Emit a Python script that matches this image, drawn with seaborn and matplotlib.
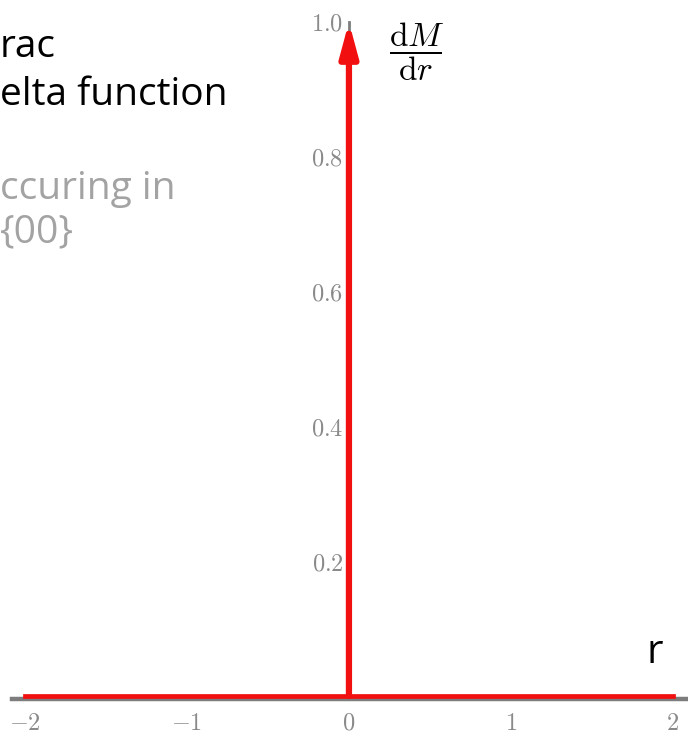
import matplotlib
matplotlib.use("Agg")
import matplotlib.pyplot as plt
import seaborn as sns

# --- data ---------------------------------------------------------------
r_range = [-2.0, 2.0]          # extent of the plotted r axis
baseline = [0.0, 0.0]          # dM/dr is zero everywhere except r = 0
impulse_r = 0.0                # location of the delta spike
impulse_height = 1.0           # height drawn for the spike
x_ticks = [-2, -1, 0, 1, 2]
x_tick_labels = ["$-2$", "$-1$", "$0$", "$1$", "$2$"]
y_ticks = [0.2, 0.4, 0.6, 0.8, 1.0]
y_tick_labels = ["$0.2$", "$0.4$", "$0.6$", "$0.8$", "$1.0$"]

title_lines = ["rac", "elta function"]
note_lines = ["ccuring in", "{00}"]

# --- style --------------------------------------------------------------
sns.set_theme(style="white")
plt.rcParams["font.family"] = ["Open Sans", "DejaVu Sans"]
plt.rcParams["mathtext.fontset"] = "cm"

RED = "#f20f0f"
AXIS_GRAY = "#7d7d7d"
TICK_GRAY = "#8a8a8a"
NOTE_GRAY = "#a3a3a3"

W, H = 688, 739
fig = plt.figure(figsize=(W / 100, H / 100), dpi=100)
ax = fig.add_axes([0, 0, 1, 1])
ax.set_facecolor("white")

ax.set_xlim(-2.154, 2.093)
ax.set_ylim(-0.0638, 1.0326)

# axes crossing at the origin
for side in ("top", "right"):
    ax.spines[side].set_visible(False)
ax.spines["bottom"].set_position(("data", -0.005))
ax.spines["bottom"].set_bounds(-2.08, 2.2)
ax.spines["bottom"].set_color(AXIS_GRAY)
ax.spines["bottom"].set_linewidth(3.2)
ax.spines["left"].set_position(("data", 0.0))
ax.spines["left"].set_bounds(0.0, 1.0)
ax.spines["left"].set_color(AXIS_GRAY)
ax.spines["left"].set_linewidth(2)

ax.set_xticks(x_ticks, x_tick_labels)
ax.set_yticks(y_ticks, y_tick_labels)
ax.tick_params(axis="both", length=0, labelsize=17.5, labelcolor=TICK_GRAY)
ax.tick_params(axis="x", pad=9)
ax.tick_params(axis="y", pad=4)
ax.set_xlabel("")
ax.set_ylabel("")

# zero baseline
sns.lineplot(x=r_range, y=baseline, color=RED, linewidth=3.4, ax=ax,
             solid_capstyle="projecting", zorder=3)

# delta spike drawn as an arrow
ax.annotate("", xy=(impulse_r, impulse_height), xytext=(impulse_r, 0.0),
            arrowprops=dict(arrowstyle="-|>,head_length=1.0,head_width=0.27",
                            color=RED, lw=4.5, mutation_scale=20,
                            shrinkA=0, shrinkB=0),
            zorder=4)

# axis labels
fig.text(417 / W, 1 - 52 / H, r"$\dfrac{\mathrm{d}M}{\mathrm{d}r}$",
         ha="center", va="center", fontsize=24, color="black")
fig.text(647 / W, 1 - 663 / H, "r", ha="left", va="baseline",
         fontsize=29, color="black")

# slide text
fig.text(0 / W, 1 - 57 / H, title_lines[0], ha="left", va="baseline",
         fontsize=28, color="black")
fig.text(0 / W, 1 - 105 / H, title_lines[1], ha="left", va="baseline",
         fontsize=28, color="black")
fig.text(0 / W, 1 - 199 / H, note_lines[0], ha="left", va="baseline",
         fontsize=28, color=NOTE_GRAY)
fig.text(0 / W, 1 - 242 / H, note_lines[1], ha="left", va="baseline",
         fontsize=28, color=NOTE_GRAY)

fig.savefig("out.png", dpi=100, facecolor="white")
